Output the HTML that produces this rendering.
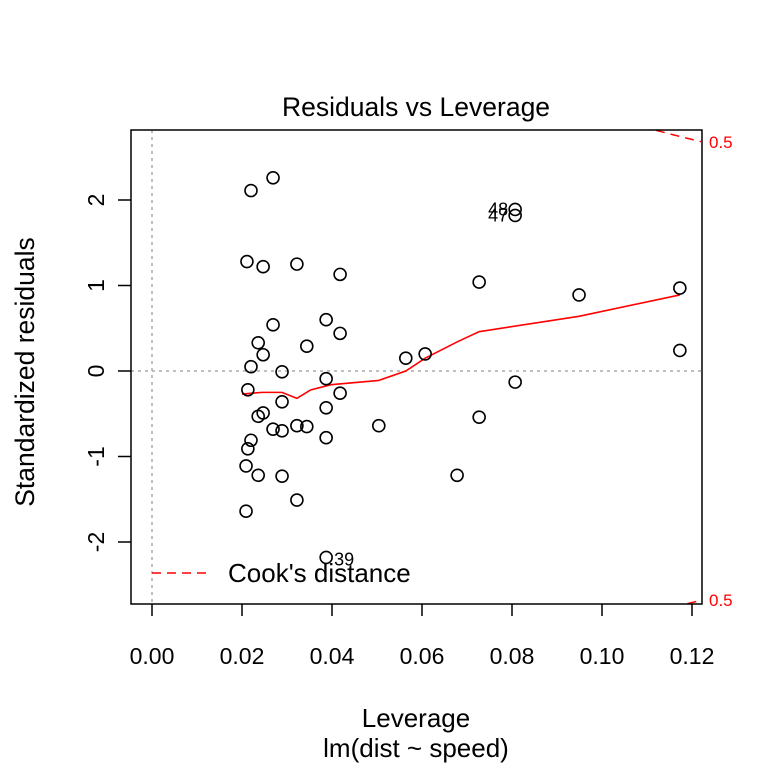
<!DOCTYPE html>
<html><head><meta charset="utf-8"><style>
body{margin:0;background:#fff}
svg text{font-family:"Liberation Sans",Arial,sans-serif}
</style></head><body>
<svg id="chart" width="768" height="768" viewBox="0 0 768 768">
<text x="416" y="116" font-size="26.5" text-anchor="middle">Residuals vs Leverage</text>
<text x="416" y="727" font-size="26" text-anchor="middle">Leverage</text>
<text x="416" y="757" font-size="26" text-anchor="middle">lm(dist ~ speed)</text>
<text transform="translate(34,372) rotate(-90)" font-size="26.5" text-anchor="middle">Standardized residuals</text>
<g id="plot"></g>
<rect x="131" y="130" width="571" height="474" fill="none" stroke="#000" stroke-width="1.5"/>
</svg>
<script>
const xTicks=[0,0.02,0.04,0.06,0.08,0.10,0.12];
const xTickLabels=["0.00","0.02","0.04","0.06","0.08","0.10","0.12"];
const yTicks=[-2,-1,0,1,2];
const yTickLabels=["-2","-1","0","1","2"];
const leverage=[0.0220,0.0269,0.0211,0.0247,0.0322,0.0418,0.0807,0.0807,0.0727,0.0949,0.1173,0.1173,0.0269,0.0387,0.0418,0.0344,0.0236,0.0247,0.0220,0.0289,0.0564,0.0607,0.0387,0.0807,0.0213,0.0418,0.0289,0.0387,0.0247,0.0236,0.0727,0.0504,0.0322,0.0344,0.0269,0.0289,0.0387,0.0220,0.0213,0.0209,0.0236,0.0289,0.0678,0.0322,0.0209,0.0387];
const stdResid=[2.11,2.26,1.28,1.22,1.25,1.13,1.89,1.82,1.04,0.89,0.97,0.24,0.54,0.60,0.44,0.29,0.33,0.19,0.05,-0.01,0.15,0.20,-0.09,-0.13,-0.22,-0.26,-0.36,-0.43,-0.49,-0.53,-0.54,-0.64,-0.64,-0.65,-0.68,-0.70,-0.78,-0.81,-0.91,-1.11,-1.22,-1.23,-1.22,-1.51,-1.64,-2.18];
const pointLabels={6:"48",7:"47",45:"39"};
const smoothX=[0.0200,0.0244,0.0289,0.0322,0.0353,0.0398,0.0504,0.0564,0.0607,0.0678,0.0727,0.0949,0.1173];
const smoothY=[-0.27,-0.25,-0.25,-0.32,-0.22,-0.16,-0.11,0,0.15,0.34,0.46,0.64,0.89];
const cookLevels=[0.5];
const nParams=2;

const NS="http://www.w3.org/2000/svg";
const g=document.getElementById('plot');
const sx=v=>152+v*4500;
const sy=v=>371-v*85.5;
function mk(t,a){const e=document.createElementNS(NS,t);for(const k in a)e.setAttribute(k,a[k]);return e;}

let l=mk('line',{x1:sx(0),x2:sx(0),y1:130,y2:604,stroke:'#aaa','stroke-dasharray':'3,4','stroke-width':1.5});


g.appendChild(l);
l=mk('line',{x1:131,x2:702,y1:sy(0),y2:sy(0),stroke:'#aaa','stroke-dasharray':'3,4','stroke-width':1.5});


g.appendChild(l);

xTicks.forEach((v,i)=>{
  const t=mk('line',{x1:sx(v),x2:sx(v),y1:604,y2:616,stroke:'#000','stroke-width':1.5});
  
  
  g.appendChild(t);
  const tx=mk('text',{x:sx(v),y:664,'font-size':23,'text-anchor':'middle'});
  tx.textContent=xTickLabels[i];
  
  
  g.appendChild(tx);
});
yTicks.forEach((v,i)=>{
  const t=mk('line',{x1:118,x2:131,y1:sy(v),y2:sy(v),stroke:'#000','stroke-width':1.5});
  
  
  g.appendChild(t);
  const tx=mk('text',{transform:`translate(104,${sy(v)}) rotate(-90)`,'font-size':23,'text-anchor':'middle'});
  tx.textContent=yTickLabels[i];
  
  
  g.appendChild(tx);
});

const sm=mk('polyline',{points:smoothX.map((x,i)=>sx(x)+','+sy(smoothY[i])).join(' '),fill:'none',stroke:'#f00','stroke-width':1.6});


g.appendChild(sm);

const cg=mk('g',{});


g.appendChild(cg);
cookLevels.forEach(c=>{
  [1,-1].forEach(s=>{
    const pts=[];
    for(let h=0.001;h<=0.1222;h+=0.0005){
      const y=s*Math.sqrt(c*nParams*(1-h)/h);
      const py=sy(y);
      if(py>=130&&py<=604)pts.push(sx(h)+','+py);
    }
    const p=mk('polyline',{points:pts.join(' '),fill:'none',stroke:'#f00','stroke-dasharray':'9,6','stroke-width':1.5});
    
    
    cg.appendChild(p);
    const yEnd=s*Math.sqrt(c*nParams*(1-0.1222)/0.1222);
    const t=mk('text',{x:709,y:sy(yEnd)+6,'font-size':17,fill:'#f00'});
    t.textContent=String(c);
    
    
    cg.appendChild(t);
  });
});

leverage.forEach((h,i)=>{
  const c=mk('circle',{cx:sx(h),cy:sy(stdResid[i]),r:6,fill:'none',stroke:'#000','stroke-width':1.6});
  
  
  g.appendChild(c);
  if(pointLabels[i]){
    const t=mk('text',{x:sx(h)-7,y:sy(stdResid[i])+(i==45?8:6),'font-size':18,'text-anchor':i==45?'start':'end'});
    if(i==45)t.setAttribute('x',sx(h)+8);
    t.textContent=pointLabels[i];
    
    
    g.appendChild(t);
  }
});

const lg=mk('g',{});


g.appendChild(lg);
const ll=mk('line',{x1:152,x2:206,y1:573,y2:573,stroke:'#f00','stroke-dasharray':'9,6','stroke-width':1.5});


lg.appendChild(ll);
const lt=mk('text',{x:228,y:582,'font-size':26});
lt.textContent="Cook's distance";


lg.appendChild(lt);
</script>
</body></html>
